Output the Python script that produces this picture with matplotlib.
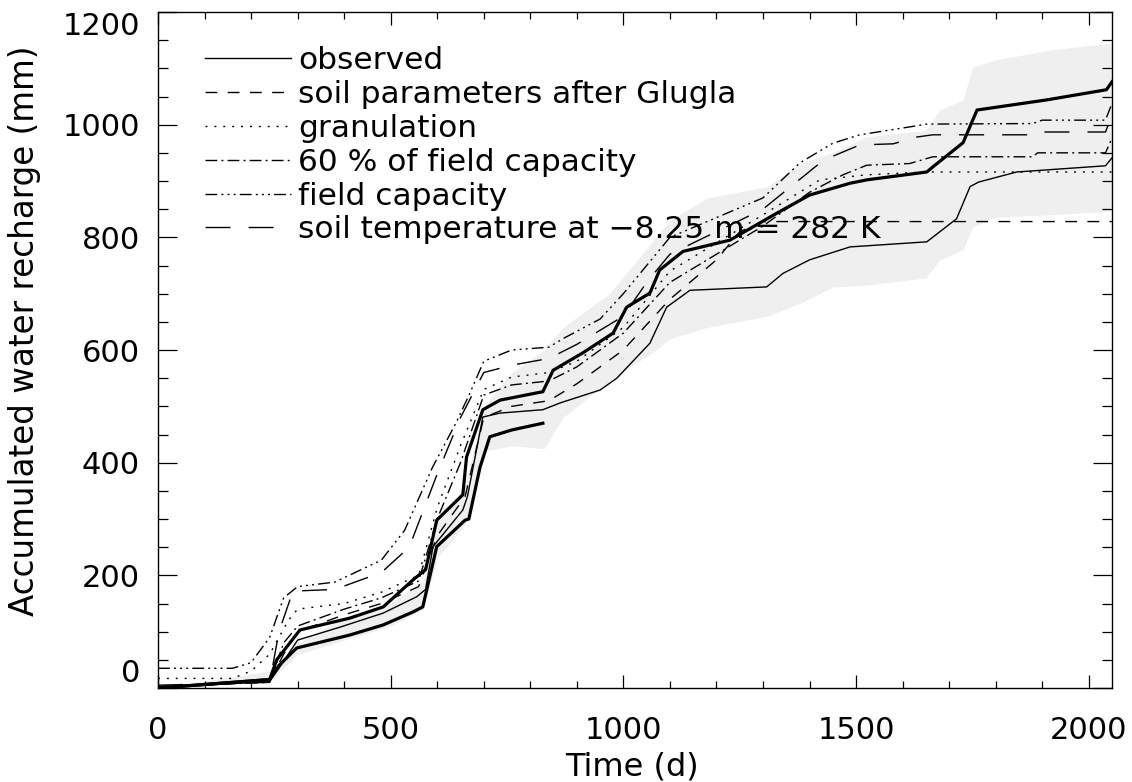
import numpy as np
import matplotlib
matplotlib.use("Agg")
import matplotlib.pyplot as plt
from matplotlib.lines import Line2D

# ---------------- data ----------------
# gray uncertainty band
band_t = [0, 240, 300, 400, 500, 570, 600, 660, 700, 760, 830, 870, 970, 1070, 1100, 1180,
          1310, 1380, 1450, 1520, 1650, 1680, 1730, 1750, 1800, 1920, 2050]
band_lo = [0, 10, 60, 85, 110, 140, 230, 290, 420, 430, 425, 480, 545, 600, 620, 640,
           660, 683, 712, 715, 728, 760, 778, 818, 836, 840, 847]
band_hi = [0, 30, 80, 125, 150, 190, 300, 360, 500, 560, 600, 640, 700, 800, 830, 870,
           890, 932, 950, 978, 990, 1026, 1044, 1102, 1115, 1133, 1145]

# thick solid (upper, full period)
thick_t = [0, 240, 255, 305, 412, 484, 548, 575, 599, 655, 663, 698, 735, 827, 849, 913, 978,
           1007, 1057, 1078, 1128, 1229, 1330, 1400, 1487, 1523, 1652, 1665, 1730, 1760,
           1910, 2038, 2050]
thick_v = [0, 15, 50, 103, 124, 144, 192, 210, 298, 343, 410, 494, 511, 526, 564, 595, 630,
           676, 701, 742, 775, 795, 843, 875, 896, 902, 916, 925, 968, 1026,
           1044, 1062, 1076]

# thick solid (lower, ends at ~830 d)
thick2_t = [0, 240, 260, 298, 412, 484, 548, 569, 599, 660, 668, 692, 713, 760, 827]
thick2_v = [0, 15, 40, 71, 94, 112, 135, 144, 251, 298, 300, 392, 446, 458, 470]

# thin solid
thin_t = [0, 240, 260, 300, 391, 484, 556, 575, 591, 655, 665, 698, 735, 827, 864, 950, 986,
          1057, 1093, 1143, 1308, 1343, 1400, 1487, 1652, 1716, 1745, 1763, 1845, 2036, 2050]
thin_v = [0, 12, 35, 85, 108, 133, 162, 175, 251, 316, 340, 481, 488, 494, 506, 529, 550,
          612, 676, 706, 712, 736, 760, 783, 792, 833, 890, 898, 916, 927, 941]

# soil parameters after Glugla (dashed)
glugla_t = [0, 240, 270, 300, 400, 480, 560, 600, 660, 700, 760, 840, 900, 1000, 1100, 1200,
            1250, 1300, 2050]
glugla_v = [0, 12, 60, 100, 130, 150, 180, 270, 340, 480, 500, 510, 540, 600, 690, 760,
            810, 828, 828]

# granulation (dotted)
gran_t = [0, 160, 200, 240, 280, 300, 400, 480, 560, 600, 650, 700, 760, 840, 900, 1000,
          1100, 1200, 1300, 1422, 1523, 1652, 2050]
gran_v = [17, 17, 30, 60, 120, 140, 150, 170, 200, 320, 430, 530, 552, 560, 580, 640,
          740, 790, 840, 902, 911, 916, 916]

# 60 % of field capacity (dash-dot)
fc60_t = [0, 240, 270, 300, 400, 480, 560, 600, 650, 700, 760, 840, 900, 1000, 1100, 1200,
          1300, 1400, 1472, 1523, 1615, 1665, 1880, 1890, 2036, 2050]
fc60_v = [3, 10, 80, 110, 140, 160, 190, 300, 400, 520, 538, 545, 570, 630, 720, 770,
          820, 880, 911, 928, 931, 943, 943, 950, 950, 976]

# field capacity (dash-dot-dot-dot)
fc_t = [0, 160, 200, 240, 270, 300, 380, 480, 530, 590, 640, 670, 700, 760, 840, 870, 950,
        1000, 1060, 1100, 1200, 1300, 1379, 1450, 1508, 1615, 1652, 1880, 1900, 2036, 2050]
fc_v = [35, 35, 45, 90, 160, 180, 188, 227, 280, 392, 470, 523, 580, 600, 605, 620, 655,
        700, 760, 800, 835, 870, 932, 967, 982, 996, 1001, 1002, 1008, 1008, 1038]

# soil temperature at -8.25 m = 282 K (long dashes)
stemp_t = [0, 240, 260, 290, 380, 480, 540, 600, 650, 700, 760, 840, 900, 1000, 1050, 1100,
           1200, 1300, 1430, 1508, 1580, 1630, 1665, 1880, 1890, 2036, 2050]
stemp_v = [5, 10, 100, 172, 175, 205, 250, 380, 480, 560, 573, 585, 610, 660, 720, 770,
           810, 850, 937, 964, 966, 978, 982, 982, 987, 987, 1017]

legend_labels = ["observed", "soil parameters after Glugla", "granulation",
                 "60 % of field capacity", "field capacity",
                 "soil temperature at \u22128.25 m = 282 K"]

x_ticks = [0, 500, 1000, 1500, 2000]
y_ticks = [0, 200, 400, 600, 800, 1000, 1200]

# ---------------- styling ----------------
DASHED = (0, (8.5, 7.5))
DOTTED = (0, (1.4, 5.0))
DASHDOT = (0, (8.5, 3.0, 1.4, 3.0))
DASHDOT3 = (0, (8.5, 3.0, 1.4, 3.0, 1.4, 3.0, 1.4, 3.0))
LONGDASH = (0, (18, 13))

plt.rcParams['font.family'] = ['DejaVu Sans']
fig = plt.figure(figsize=(11.32, 7.82), dpi=100)
ax = fig.add_axes([158 / 1132, 1 - 688 / 782, (1112 - 158) / 1132, (688 - 12) / 782])

ax.fill_between(band_t, band_lo, band_hi, color='#efefef', lw=0, zorder=1)

lw_thin = 1.0
ax.plot(glugla_t, glugla_v, color='k', lw=lw_thin, linestyle=DASHED, zorder=3)
ax.plot(gran_t, gran_v, color='k', lw=lw_thin, linestyle=DOTTED, zorder=3)
ax.plot(fc60_t, fc60_v, color='k', lw=lw_thin, linestyle=DASHDOT, zorder=3)
ax.plot(fc_t, fc_v, color='k', lw=lw_thin, linestyle=DASHDOT3, zorder=3)
ax.plot(stemp_t, stemp_v, color='k', lw=lw_thin, linestyle=LONGDASH, zorder=3)
ax.plot(thin_t, thin_v, color='k', lw=lw_thin, zorder=4)
ax.plot(thick_t, thick_v, color='k', lw=2.3, zorder=5)
ax.plot(thick2_t, thick2_v, color='k', lw=2.3, zorder=5)

ax.set_xlim(0, 2050)
ax.set_ylim(0, 1200)
ax.set_xticks(x_ticks)
ax.set_xticks(np.arange(0, 2051, 100), minor=True)
ax.set_yticks(y_ticks)
ax.set_yticks(np.arange(0, 1201, 50), minor=True)
ax.set_xticklabels([str(v) for v in x_ticks])
ax.set_yticklabels([str(v) for v in y_ticks])

ax.tick_params(axis='x', which='major', direction='in', length=9.5, width=0.9,
               top=True, bottom=True, labelsize=22, pad=20)
ax.tick_params(axis='x', which='minor', direction='in', length=5, width=0.9, top=True, bottom=True)
ax.tick_params(axis='y', which='major', direction='in', length=13.5, width=0.9,
               left=True, right=True, labelsize=22, pad=13)
ax.tick_params(axis='y', which='minor', direction='in', length=7, width=0.9, left=True, right=True)
for s in ax.spines.values():
    s.set_linewidth(1.0)

ylabs = ax.get_yticklabels()
ylabs[0].set_va('bottom')
ylabs[-1].set_va('top')

ax.set_xlabel("Time (d)", fontsize=23)
ax.xaxis.set_label_coords(0.497, -0.094)
ax.set_ylabel("Accumulated water recharge (mm)", fontsize=23.5)
ax.yaxis.set_label_coords(-0.1225, 0.528)

handles = [Line2D([], [], color='k', lw=lw_thin),
           Line2D([], [], color='k', lw=lw_thin, linestyle=DASHED),
           Line2D([], [], color='k', lw=lw_thin, linestyle=DOTTED),
           Line2D([], [], color='k', lw=lw_thin, linestyle=DASHDOT),
           Line2D([], [], color='k', lw=lw_thin, linestyle=DASHDOT3),
           Line2D([], [], color='k', lw=lw_thin, linestyle=LONGDASH)]
leg = ax.legend(handles, legend_labels, loc='upper left', frameon=False, fontsize=22.5,
                handlelength=2.75, handletextpad=0.22, labelspacing=0.155,
                bbox_to_anchor=(0.0365, 0.968), borderaxespad=0.0)
leg.set_zorder(6)

fig.savefig("out.png", dpi=100)
